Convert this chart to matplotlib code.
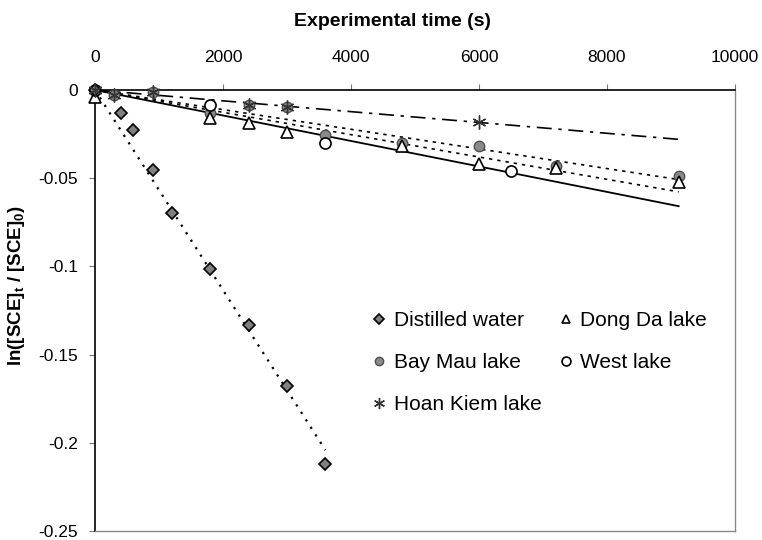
import numpy as np
import matplotlib
matplotlib.use('Agg')
import matplotlib.pyplot as plt
from matplotlib.ticker import FuncFormatter

plt.rcParams['font.family'] = ['Liberation Sans', 'DejaVu Sans']
plt.rcParams['axes.unicode_minus'] = False
plt.rcParams['mathtext.fontset'] = 'custom'
plt.rcParams['mathtext.rm'] = 'Liberation Sans'
plt.rcParams['mathtext.bf'] = 'Liberation Sans:bold'

# time (s) and ln([SCE]t/[SCE]0)
distilled_t = [0, 400, 600, 900, 1200, 1800, 2400, 3000, 3600]
distilled_y = [0, -0.013, -0.0225, -0.0455, -0.0697, -0.1017, -0.133, -0.168, -0.212]

dongda_t = [0, 1800, 2400, 3000, 4800, 6000, 7200, 9120]
dongda_y = [-0.004, -0.016, -0.0186, -0.024, -0.032, -0.042, -0.044, -0.052]

baymau_t = [0, 300, 900, 1800, 2400, 3000, 3600, 4800, 6000, 7200, 9120]
baymau_y = [0, -0.003, -0.001, -0.013, -0.0085, -0.0095, -0.0253, -0.030, -0.032, -0.043, -0.049]

west_t = [0, 1800, 3600, 6500]
west_y = [0, -0.0084, -0.030, -0.046]

hoankiem_t = [0, 300, 900, 2400, 3000, 6000]
hoankiem_y = [0, -0.003, -0.001, -0.0084, -0.0095, -0.018]

lake_trend_end = 9120
x_ticks = [0, 2000, 4000, 6000, 8000, 10000]
y_ticks = [0, -0.05, -0.1, -0.15, -0.2, -0.25]


def trend_through_origin(t, y, t_end):
    t = np.asarray(t, dtype=float)
    y = np.asarray(y, dtype=float)
    slope = np.sum(t * y) / np.sum(t * t)
    xs = np.array([0.0, t_end])
    return xs, slope * xs


fig = plt.figure(figsize=(7.62, 5.4), dpi=100)
ax = fig.add_axes([95 / 762, 1 - 531 / 540, 640 / 762, 441 / 540])

# trend lines
xs, ys = trend_through_origin(distilled_t, distilled_y, max(distilled_t))
ax.plot(xs, ys, color='black', lw=1.6, linestyle=(0, (1, 3)), zorder=2)
xs, ys = trend_through_origin(dongda_t, dongda_y, lake_trend_end)
ax.plot(xs, ys, color='black', lw=1.2, linestyle=(0, (2, 3)), zorder=2)
xs, ys = trend_through_origin(baymau_t, baymau_y, lake_trend_end)
ax.plot(xs, ys, color='black', lw=1.2, linestyle=(0, (2, 3)), zorder=2)
xs, ys = trend_through_origin(west_t, west_y, lake_trend_end)
ax.plot(xs, ys, color='black', lw=1.3, linestyle='-', zorder=2)
xs, ys = trend_through_origin(hoankiem_t, hoankiem_y, lake_trend_end)
ax.plot(xs, ys, color='black', lw=1.2, linestyle=(0, (9, 4, 2, 4)), zorder=2)

# markers
ax.plot(distilled_t, distilled_y, linestyle='none', marker='D', ms=6.5,
        mfc='#808080', mec='black', mew=1.2, label='Distilled water', zorder=4, clip_on=False)
ax.plot(baymau_t, baymau_y, linestyle='none', marker='o', ms=7.5,
        mfc='#8a8a8a', mec='#505050', mew=1.0, label='Bay Mau lake', zorder=3, clip_on=False)
ax.plot(hoankiem_t, hoankiem_y, linestyle='none', marker=(6, 2, 0), ms=10,
        mfc='none', mec='#333333', mew=1.0, label='Hoan Kiem lake', zorder=5, clip_on=False)
ax.plot(dongda_t, dongda_y, linestyle='none', marker='^', ms=8,
        mfc='white', mec='black', mew=1.2, label='Dong Da lake', zorder=3, clip_on=False)
ax.plot(west_t, west_y, linestyle='none', marker='o', ms=8,
        mfc='white', mec='black', mew=1.2, label='West lake', zorder=3, clip_on=False)

ax.set_xlim(0, 10000)
ax.set_ylim(-0.25, 0)
ax.set_xticks(x_ticks)
ax.set_yticks(y_ticks)
ax.yaxis.set_major_formatter(FuncFormatter(lambda v, p: '%g' % v))
ax.xaxis.tick_top()
ax.tick_params(axis='x', direction='out', length=4, width=0.8, color='#777777', pad=14, labelsize=12.5)
ax.tick_params(axis='y', direction='out', length=4, width=0.8, color='#777777', pad=8, labelsize=12.5)

for side in ['left', 'top']:
    ax.spines[side].set_color('black')
    ax.spines[side].set_linewidth(1.2)
for side in ['right', 'bottom']:
    ax.spines[side].set_color('#888888')
    ax.spines[side].set_linewidth(1.0)
    ax.spines[side].set_linestyle((0, (1, 1)))

fig.text(393 / 762, 1 - 22 / 540, 'Experimental time (s)', ha='center', va='center',
         fontsize=14, fontweight='bold')
fig.text(17 / 762, 1 - 285 / 540, r'ln([SCE]$_\mathbf{t}$ / [SCE]$_\mathbf{0}$)',
         ha='center', va='center', rotation=90, fontsize=13.5, fontweight='bold')

leg = ax.legend(ncol=2, loc='upper left', bbox_to_anchor=(371 / 762, 1 - 311 / 540),
                bbox_transform=fig.transFigure, frameon=False, fontsize=15,
                handlelength=0.8, handletextpad=0.3, columnspacing=0.75,
                labelspacing=1.1, borderpad=0, borderaxespad=0, markerscale=0.8)

fig.savefig('out.png', dpi=100)
